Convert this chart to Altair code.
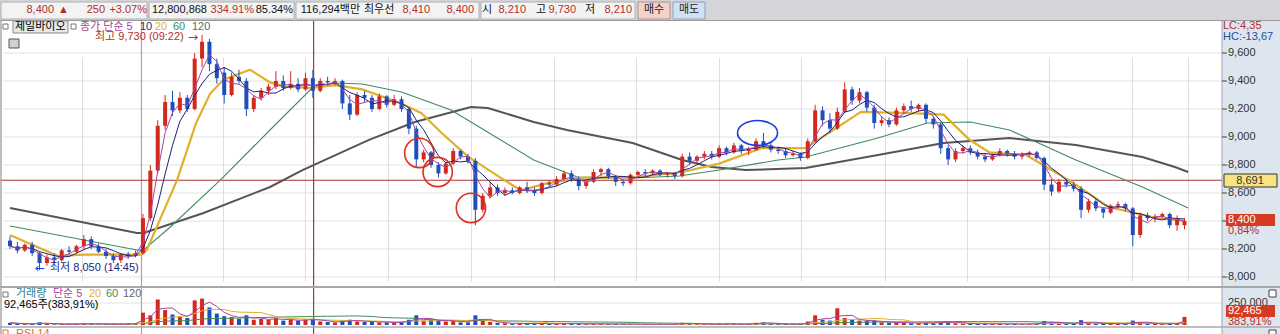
import altair as alt
import pandas as pd

# ---------------- data ----------------
O = [8260, 8220, 8190, 8230, 8170, 8100, 8140, 8120, 8190, 8180,
     8220, 8270, 8220, 8180, 8150, 8120, 8160, 8150, 8170, 8420,
     8760, 9080, 9250, 9190, 9280, 9200, 9560, 9680, 9520, 9460,
     9300, 9430, 9400, 9200, 9280, 9330, 9360, 9400, 9350, 9380,
     9340, 9420, 9330, 9400, 9390, 9400, 9240, 9160, 9300, 9280,
     9200, 9290, 9230, 9270, 9200, 9060, 8840, 8890, 8800, 8740,
     8810, 8900, 8860, 8830, 8480, 8580, 8640, 8600, 8620, 8600,
     8640, 8620, 8600, 8670, 8660, 8700, 8740, 8700, 8650, 8680,
     8750, 8770, 8720, 8680, 8670, 8730, 8750, 8740, 8760, 8730,
     8740, 8720, 8860, 8830, 8860, 8880, 8860, 8920, 8890, 8940,
     8900, 8910, 8970, 8940, 8910, 8900, 8870, 8880, 8850, 8970,
     9190, 9120, 9060, 9180, 9340, 9260, 9320, 9210, 9100, 9120,
     9090, 9190, 9220, 9200, 9230, 9130, 9090, 8920, 8840, 8900,
     8920, 8890, 8860, 8840, 8870, 8900, 8880, 8860, 8880, 8890,
     8850, 8660, 8610, 8680, 8660, 8630, 8480, 8540, 8490, 8460,
     8510, 8520, 8490, 8300, 8440, 8420, 8430, 8450, 8370, 8370]
H = [8290, 8250, 8240, 8250, 8180, 8160, 8170, 8200, 8220, 8230,
     8300, 8290, 8240, 8200, 8170, 8170, 8180, 8190, 8450, 8800,
     9120, 9300, 9330, 9320, 9300, 9600, 9730, 9700, 9560, 9500,
     9460, 9480, 9420, 9300, 9350, 9380, 9470, 9440, 9470, 9420,
     9460, 9480, 9420, 9430, 9420, 9410, 9300, 9320, 9330, 9300,
     9310, 9300, 9300, 9290, 9210, 9080, 8910, 8900, 8820, 8820,
     8920, 8910, 8880, 8850, 8600, 8680, 8660, 8640, 8640, 8650,
     8680, 8640, 8680, 8690, 8720, 8760, 8760, 8720, 8690, 8770,
     8780, 8780, 8730, 8700, 8740, 8760, 8770, 8770, 8770, 8750,
     8750, 8880, 8890, 8870, 8900, 8900, 8940, 8930, 8960, 8950,
     8930, 8990, 9030, 8960, 8930, 8920, 8900, 8890, 8990, 9230,
     9220, 9170, 9210, 9390, 9360, 9350, 9330, 9230, 9150, 9140,
     9210, 9240, 9260, 9240, 9240, 9150, 9100, 8940, 8920, 8940,
     8940, 8910, 8880, 8880, 8920, 8910, 8900, 8890, 8900, 8900,
     8860, 8700, 8700, 8700, 8680, 8650, 8560, 8560, 8500, 8520,
     8540, 8530, 8500, 8460, 8460, 8450, 8460, 8460, 8440, 8420]
L = [8200, 8170, 8180, 8150, 8050, 8080, 8100, 8110, 8160, 8170,
     8200, 8200, 8170, 8130, 8100, 8100, 8130, 8140, 8160, 8400,
     8740, 9050, 9150, 9170, 9180, 9190, 9500, 9470, 9380, 9240,
     9290, 9380, 9150, 9180, 9260, 9300, 9340, 9330, 9340, 9320,
     9330, 9280, 9320, 9370, 9370, 9200, 9120, 9150, 9250, 9180,
     9190, 9210, 9220, 9180, 9020, 8780, 8820, 8780, 8710, 8730,
     8800, 8840, 8810, 8370, 8460, 8560, 8580, 8580, 8590, 8590,
     8600, 8580, 8590, 8640, 8650, 8690, 8680, 8620, 8630, 8670,
     8720, 8700, 8650, 8650, 8660, 8710, 8720, 8730, 8720, 8710,
     8700, 8710, 8800, 8810, 8840, 8840, 8850, 8870, 8880, 8880,
     8870, 8900, 8920, 8890, 8880, 8850, 8860, 8830, 8840, 8960,
     9080, 9030, 9050, 9170, 9230, 9240, 9180, 9060, 9080, 9070,
     9080, 9170, 9180, 9180, 9100, 9060, 8880, 8800, 8820, 8880,
     8870, 8840, 8820, 8830, 8860, 8860, 8840, 8840, 8860, 8840,
     8620, 8580, 8600, 8640, 8610, 8420, 8460, 8470, 8420, 8450,
     8490, 8470, 8220, 8280, 8400, 8390, 8420, 8350, 8330, 8340]
C = [8220, 8190, 8230, 8170, 8100, 8140, 8120, 8190, 8180, 8220,
     8270, 8220, 8180, 8150, 8120, 8160, 8150, 8170, 8420, 8760,
     9080, 9250, 9190, 9280, 9200, 9560, 9680, 9520, 9420, 9300,
     9430, 9400, 9200, 9280, 9330, 9360, 9400, 9350, 9380, 9340,
     9420, 9330, 9400, 9390, 9400, 9240, 9160, 9300, 9280, 9200,
     9290, 9230, 9270, 9200, 9060, 8840, 8890, 8800, 8740, 8810,
     8900, 8860, 8830, 8480, 8580, 8640, 8600, 8620, 8600, 8640,
     8620, 8600, 8670, 8660, 8700, 8740, 8700, 8650, 8680, 8750,
     8770, 8720, 8680, 8670, 8730, 8750, 8740, 8760, 8730, 8740,
     8720, 8860, 8830, 8860, 8880, 8860, 8920, 8890, 8940, 8900,
     8910, 8970, 8940, 8910, 8900, 8870, 8880, 8850, 8970, 9190,
     9120, 9060, 9180, 9340, 9260, 9320, 9210, 9100, 9120, 9090,
     9190, 9220, 9200, 9230, 9130, 9090, 8920, 8840, 8900, 8920,
     8890, 8860, 8840, 8870, 8900, 8880, 8860, 8880, 8890, 8850,
     8660, 8610, 8680, 8660, 8630, 8480, 8540, 8490, 8460, 8510,
     8520, 8490, 8300, 8440, 8420, 8430, 8450, 8370, 8420, 8400]
# volume, thousands of shares
V = [25, 12, 10, 15, 30, 12, 8, 10, 9, 12,
     18, 10, 8, 10, 12, 9, 15, 20, 140, 110,
     290, 170, 120, 90, 80, 280, 300, 200, 130, 100,
     90, 70, 110, 60, 70, 60, 80, 50, 60, 50,
     60, 70, 40, 35, 30, 50, 60, 40, 35, 40,
     30, 30, 25, 35, 60, 110, 50, 60, 50, 40,
     50, 30, 30, 110, 50, 35, 25, 20, 15, 20,
     15, 20, 15, 12, 15, 20, 12, 15, 10, 15,
     12, 10, 12, 10, 10, 8, 10, 8, 10, 8,
     10, 25, 15, 12, 10, 10, 15, 10, 12, 10,
     12, 25, 30, 15, 10, 12, 10, 12, 40, 110,
     60, 50, 190, 80, 60, 50, 45, 50, 30, 25,
     30, 25, 20, 20, 25, 20, 35, 40, 20, 15,
     15, 12, 15, 12, 15, 10, 12, 10, 12, 15,
     45, 30, 20, 15, 15, 55, 25, 15, 20, 12,
     12, 15, 50, 30, 15, 12, 10, 20, 15, 92]

MA20_I = [0, 3, 6.5, 10, 17.7, 18.5, 22.6, 25.2, 27.1, 28.9, 32.5, 35.2, 37.3, 40.9, 44, 47.7,
          53, 55.7, 58.4, 62, 66.4, 69.1, 72.8, 77.6, 84.3, 91, 96, 101.7, 107.7, 115.2,
          121.9, 126.4, 129.9, 132.6, 137.6, 143.4, 148.7, 155.4, 159]
MA20_P = [8300, 8230, 8150, 8160, 8160, 8190, 8690, 9100, 9310, 9410, 9480, 9390, 9360, 9350, 9370, 9340,
          9240, 9170, 9030, 8860, 8710, 8620, 8670, 8710, 8710, 8750, 8810, 8920, 8920, 9180,
          9170, 9160, 8980, 8890, 8870, 8690, 8500, 8420, 8400]
MA60_I = [0, 17.2, 18.1, 21.7, 28.5, 35.2, 40.9, 44, 47.7, 53, 59.7, 64.2, 70.9, 76.8, 84.3,
          90.6, 96, 104, 107.7, 117.5, 124.2, 130, 135.3, 144.3, 153.3, 159.5]
MA60_P = [8364, 8193, 8193, 8357, 8693, 9050, 9350, 9386, 9379, 9321, 9193, 9050, 8836, 8714, 8707,
          8721, 8764, 8836, 8857, 8993, 9100, 9107, 9050, 8836, 8643, 8493]
MA120_I = [0, 17.2, 18.1, 26.2, 35.2, 39.6, 48.6, 54.8, 62.4, 64.7, 70.9, 75.4, 84.3, 91, 95,
           99.6, 107.7, 117.5, 126.4, 135.3, 144.3, 153.3, 157.7, 159.5]
MA120_P = [8493, 8314, 8314, 8457, 8643, 8764, 8979, 9107, 9214, 9207, 9107, 9050, 8957, 8836, 8786,
           8764, 8779, 8871, 8957, 8993, 8943, 8857, 8786, 8750]

PRICE_TICKS = [8000, 8200, 8400, 8600, 8800, 9000, 9200, 9400, 9600]
VOL_TICKS = [250]
CROSS_PRICE = [8691]
CURSOR_I = [41.1]
DAY_I = [17.8]
CIRCLE_I = [55.4, 57.9, 62.4]
CIRCLE_P = [8886, 8750, 8493]
ELLIPSE_I = [101.2]
ELLIPSE_P = [9029]

# ---------------- styling ----------------
FONT = "'Liberation Sans', 'Noto Sans CJK KR', sans-serif"
ARROW_FONT = "'DejaVu Sans', sans-serif"
RED = "#d4281c"
BLUE = "#1d4fbf"
TRED = "#b0302a"
PURPLE = "#a8449f"
NAVY = "#1b2478"
GOLD = "#e0b02c"
GREEN = "#3f8c5c"
GRAY = "#555555"

df = pd.DataFrame({"i": list(range(len(C))), "o": O, "h": H, "l": L, "c": C, "v": V})

XS = alt.Scale(domain=[0, len(C) - 1], range=[5, 1189.5], nice=False, zero=False)
PS = alt.Scale(domain=[8000, 9600], range=[277, 53], nice=False, zero=False)
VS = alt.Scale(domain=[0, 250], range=[325, 303], nice=False, zero=True)
GRID_I = [9.7, 28.9, 40.0, 51.2, 62.4, 73.6, 84.8, 96.0, 107.1, 118.4, 129.5, 140.7, 151.9, 159.5]

ONE = pd.DataFrame({"k": [0]})


def X(field="i"):
    return alt.X(f"{field}:Q", scale=XS, axis=None)


def PY(field):
    return alt.Y(f"{field}:Q", scale=PS, axis=None)


def label(s, x, y, color="#000000", size=11, align="left", font=FONT):
    return alt.Chart(ONE).mark_text(text=s, align=align, baseline="middle", font=font,
                                    fontSize=size, color=color).encode(x=alt.value(x), y=alt.value(y))


def box(x1, y1, x2, y2, fill, stroke=None, sw=1):
    kw = dict(fill=fill)
    if stroke:
        kw.update(stroke=stroke, strokeWidth=sw)
    return alt.Chart(ONE).mark_rect(**kw).encode(x=alt.value(x1), x2=alt.value(x2),
                                                 y=alt.value(y1), y2=alt.value(y2))


def hline(y, x1, x2, color, w=1):
    return alt.Chart(ONE).mark_rule(color=color, strokeWidth=w).encode(
        x=alt.value(x1), x2=alt.value(x2), y=alt.value(y))


up = alt.condition("datum.c >= datum.o", alt.value(RED), alt.value(BLUE))

layers = []

# vertical time gridlines via axis grid
layers.append(alt.Chart(df).mark_point(opacity=0).encode(
    x=alt.X("i:Q", scale=XS, axis=alt.Axis(values=GRID_I, grid=True, gridColor="#dedede",
                                           labels=False, ticks=False, domain=False, title=None)),
    y=PY("c")))

ticks = pd.DataFrame({"t": PRICE_TICKS})
layers.append(alt.Chart(ticks).mark_rule(color="#e2e2e2").encode(
    x=alt.value(3), x2=alt.value(1222), y=PY("t")))
vt = pd.DataFrame({"t": VOL_TICKS})
layers.append(alt.Chart(vt).mark_rule(color="#e2e2e2").encode(
    x=alt.value(3), x2=alt.value(1222), y=alt.Y("t:Q", scale=VS, axis=None)))

# day / cursor markers and cross line
layers.append(alt.Chart(pd.DataFrame({"i": DAY_I})).mark_rule(color="#c09a9a", strokeWidth=1.2).encode(
    x=X(), y=alt.value(21), y2=alt.value(334)))
layers.append(alt.Chart(pd.DataFrame({"i": CURSOR_I})).mark_rule(color="#a33a3a", strokeWidth=1.2).encode(
    x=X(), y=alt.value(21), y2=alt.value(334)))
layers.append(alt.Chart(pd.DataFrame({"p": CROSS_PRICE})).mark_rule(color="#a83434", strokeWidth=1.2).encode(
    x=alt.value(0), x2=alt.value(1222), y=PY("p")))

# long moving averages
for I, P, col, w in [(MA120_I, MA120_P, GRAY, 2.0), (MA60_I, MA60_P, GREEN, 1.1), (MA20_I, MA20_P, GOLD, 2.2)]:
    layers.append(alt.Chart(pd.DataFrame({"i": I, "p": P})).mark_line(color=col, strokeWidth=w).encode(
        x=X(), y=PY("p")))

# candles
layers.append(alt.Chart(df).mark_rule(strokeWidth=1).encode(x=X(), y=PY("l"), y2="h:Q", color=up))
layers.append(alt.Chart(df).mark_bar(size=4).encode(x=X(), y=PY("o"), y2="c:Q", color=up))

# short moving averages of the closes
layers.append(alt.Chart(df).transform_window(ma10="mean(c)", frame=[-4, 0], sort=[alt.SortField("i")])
              .mark_line(color=NAVY, strokeWidth=1).encode(x=X(), y=PY("ma10")))
layers.append(alt.Chart(df).transform_window(ma5="mean(c)", frame=[-2, 0], sort=[alt.SortField("i")])
              .mark_line(color=PURPLE, strokeWidth=1).encode(x=X(), y=PY("ma5")))

# volume
layers.append(alt.Chart(df).mark_bar(size=4).encode(
    x=X(), y=alt.Y("v:Q", scale=VS, axis=None), color=up))
for name, fr, col in [("vm60", -29, GREEN), ("vm20", -9, GOLD), ("vm5", -2, PURPLE)]:
    layers.append(alt.Chart(df).transform_window(**{name: "mean(v)"}, frame=[fr, 0], sort=[alt.SortField("i")])
                  .mark_line(color=col, strokeWidth=1).encode(x=X(), y=alt.Y(f"{name}:Q", scale=VS, axis=None)))

# annotations
layers.append(alt.Chart(pd.DataFrame({"i": CIRCLE_I, "p": CIRCLE_P})).mark_point(
    shape="circle", size=860, filled=False, color="#e0301e", strokeWidth=1.6, opacity=1).encode(x=X(), y=PY("p")))
layers.append(alt.Chart(pd.DataFrame({"i": ELLIPSE_I, "p": ELLIPSE_P})).mark_point(
    shape="M-1,0A1,0.62,0,1,1,1,0A1,0.62,0,1,1,-1,0Z", size=1600, filled=False, color="#1a3ce0",
    strokeWidth=1.6, opacity=1).encode(x=X(), y=PY("p")))

layers.append(label("최고 9,730 (09:22)", 95, 37, TRED, 11))
layers.append(label("→", 188, 37, "#c42a1c", 12, font=ARROW_FONT))
layers.append(label("←", 35, 268, "#1a3ce0", 12, font=ARROW_FONT))
layers.append(label("최저 8,050 (14:45)", 50, 268, NAVY, 11))

# legend row of the price panel
layers += [
    box(3, 24, 8, 29, "#ffffff", "#777"),
    box(13, 21, 68, 33, "#e8e8e8", "#8a8a8a"),
    label("제일바이오", 15, 27, "#000", 11),
    box(71, 24, 76, 29, "#ffffff", "#777"),
    label("종가 단순 5", 80, 27, PURPLE, 11),
    label("10", 140, 27, NAVY, 11),
    label("20", 155, 27, GOLD, 11),
    label("60", 173, 27, GREEN, 11),
    label("120", 192, 27, "#666", 11),
    box(9, 39, 19, 48, "#d0d0d0", "#555"),
]

# panel separators
layers += [
    hline(287, 0, 1280, "#a8a8a8", 2),
    hline(327, 0, 1280, "#a8a8a8", 1.5),
    alt.Chart(ONE).mark_rule(color="#a8a8a8", strokeWidth=1.5).encode(
        x=alt.value(1), y=alt.value(21), y2=alt.value(334)),
]

# volume panel legend
layers += [
    box(3, 292, 8, 297, "#ffffff", "#777"),
    label("거래량", 16, 294, "#2f7f8f", 11),
    label("단순 5", 53, 294, PURPLE, 11),
    label("20", 89, 294, GOLD, 11),
    label("60", 106, 294, GREEN, 11),
    label("120", 123, 294, "#666", 11),
    label("92,465주(383,91%)", 4, 305, "#000", 11),
    box(3, 330, 8, 335, "#ffffff", "#c08040"),
    label("RSI 14", 16, 334, "#c07a30", 11),
]

# right value panel
layers += [
    box(1222, 21, 1280, 334, "#dde5ef"),
    alt.Chart(ONE).mark_rule(color="#9aa4b0", strokeWidth=1).encode(
        x=alt.value(1222), y=alt.value(21), y2=alt.value(334)),
    hline(287, 1222, 1280, "#a8a8a8", 2),
    hline(327, 1222, 1280, "#a8a8a8", 1.5),
    alt.Chart(ticks).mark_rule(color="#444").encode(x=alt.value(1222), x2=alt.value(1227), y=PY("t")),
    alt.Chart(ticks).mark_text(align="left", baseline="middle", font=FONT, fontSize=11, color="#333").encode(
        x=alt.value(1228), y=PY("t"), text=alt.Text("t:Q", format=",")),
    label("LC:4,35", 1223, 26, TRED, 11),
    label("HC:-13,67", 1223, 37, "#23509a", 11),
    box(1224, 174, 1277, 187, "#f8e482", "#333"),
    label("8,691", 1250, 180.5, "#333", 11, "center"),
    box(1226, 214, 1275, 226, "#d63a22"),
    label("8,400", 1228, 220, "#ffffff", 11),
    label("0,84%", 1228, 231, TRED, 11),
    alt.Chart(vt).transform_calculate(lab="format(datum.t * 1000, ',')").mark_text(
        align="left", baseline="middle", font=FONT, fontSize=11, color="#333").encode(
        x=alt.value(1228), y=alt.Y("t:Q", scale=VS, axis=None), text="lab:N"),
    box(1226, 305, 1275, 317, "#d63a22"),
    label("92,465", 1228, 311, "#ffffff", 11),
    label("383,91%", 1228, 322, TRED, 11),
    box(1269, 290, 1276, 297, "#ffffff", "#444"),
    box(1269, 330, 1276, 337, "#ffffff", "#444"),
]

# header bar
HS = 11
layers += [
    box(0, 0, 1280, 21, "#d5d5d9"),
    hline(20.5, 0, 1280, "#9a9a9a", 1),
    box(1, 2, 147, 19, "#f3f3f3", "#b0b0b0"),
    box(149, 2, 294, 19, "#f3f3f3", "#b0b0b0"),
    box(296, 2, 479, 19, "#f3f3f3", "#b0b0b0"),
    box(481, 2, 635, 19, "#f3f3f3", "#b0b0b0"),
    box(638, 2, 670, 19, "#f4d2ca", "#b09090"),
    box(673, 2, 705, 19, "#d0e1f4", "#90a0b8"),
    label("8,400", 54, 10, TRED, HS, "right"),
    label("▲", 58, 10, "#c42a1c", HS),
    label("250", 105, 10, TRED, HS, "right"),
    label("+3.07%", 147, 10, TRED, HS, "right"),
    label("12,800,868", 207, 10, "#111", HS, "right"),
    label("334.91%", 254, 10, TRED, HS, "right"),
    label("85.34%", 293, 10, "#111", HS, "right"),
    label("116,294백만", 360, 10, "#111", HS, "right"),
    label("최우선", 364, 10, "#111", HS),
    label("8,410", 430, 10, TRED, HS, "right"),
    label("8,400", 474, 10, TRED, HS, "right"),
    label("시", 482, 10, "#111", HS),
    label("8,210", 526, 10, TRED, HS, "right"),
    label("고", 536, 10, "#111", HS),
    label("9,730", 576, 10, TRED, HS, "right"),
    label("저", 585, 10, "#111", HS),
    label("8,210", 632, 10, TRED, HS, "right"),
    label("매수", 654, 10, "#222", HS, "center"),
    label("매도", 689, 10, "#222", HS, "center"),
]

chart = (
    alt.layer(*layers)
    .resolve_scale(y="independent")
    .resolve_axis(x="independent", y="independent")
    .properties(width=1280, height=334, padding=0, background="white",
                autosize=alt.AutoSizeParams(type="none"))
    .configure_view(stroke=None)
)

chart.save("out.html", embed_options={"renderer": "svg", "actions": False})
